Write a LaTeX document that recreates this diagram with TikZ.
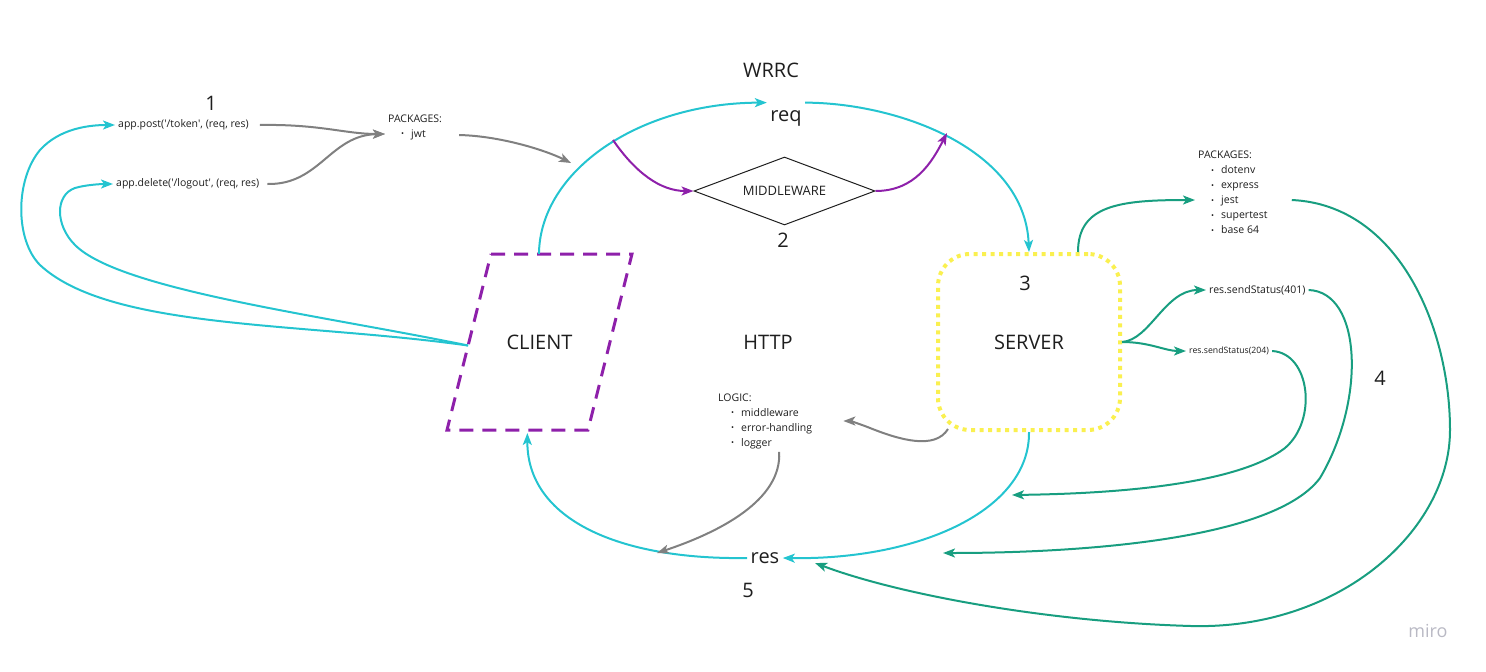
\documentclass[tikz,border=0pt]{standalone}
\usepackage{fontspec}
\setmainfont{Open Sans}
\usetikzlibrary{shapes.geometric, arrows.meta, positioning, calc}
\definecolor{ink}{RGB}{30,30,30}
\definecolor{wirecyan}{RGB}{36,196,208}
\definecolor{wiregreen}{RGB}{24,158,128}
\definecolor{wiregrey}{RGB}{128,128,128}
\definecolor{wirepurple}{RGB}{142,32,170}
\definecolor{boxyellow}{RGB}{250,240,80}
\definecolor{mirogrey}{RGB}{185,185,196}
\newcommand{\sq}{\textquotesingle}
\newcommand{\bul}[1]{\hspace*{13pt}\makebox[10pt][l]{\raisebox{0.5pt}{\fontsize{8}{8}\selectfont\textbullet}}#1}

\begin{document}
\begin{tikzpicture}[x=1pt, y=-1pt,
  biglabel/.style={font=\fontsize{20}{24}\selectfont, text=ink},
  smalltext/.style={font=\fontsize{10.5}{15}\selectfont, text=ink, align=left, inner sep=3pt},
  tip/.style={-{Stealth[length=12pt,width=9pt,inset=3pt]}},
  cyanwire/.style={draw=wirecyan, line width=2pt, tip},
  greenwire/.style={draw=wiregreen, line width=2pt, tip},
  greywire/.style={draw=wiregrey, line width=2pt, tip},
  purplewire/.style={draw=wirepurple, line width=2pt, tip},
]
  \useasboundingbox (0,0) rectangle (1486,672);

  % labels and step numbers
  \node[biglabel] (wrrc) at (771,70) {WRRC};
  \node[biglabel] (one) at (211,103) {1};
  \node[biglabel] (two) at (783,240) {2};
  \node[biglabel] (three) at (1025,283) {3};
  \node[biglabel] (four) at (1380,378) {4};
  \node[biglabel] (five) at (748,590) {5};
  \node[biglabel] (http) at (768,342) {HTTP};
  \node[biglabel] (req) at (786,118) {req};
  \node[biglabel] (res) at (765,558) {res};

  % client parallelogram
  \coordinate (cl-nw) at (491,254);
  \coordinate (cl-ne) at (632,254);
  \coordinate (cl-se) at (588,430);
  \coordinate (cl-sw) at (447,430);
  \draw[wirepurple, line width=3pt, dash pattern=on 14pt off 9pt] (cl-nw) -- (cl-ne) -- (cl-se) -- (cl-sw) -- cycle;
  \node[biglabel] (client) at (539.5,342) {CLIENT};
  \coordinate (cl-top) at ($(cl-nw)!0.34!(cl-ne)$);
  \coordinate (cl-bot) at ($(cl-sw)!0.57!(cl-se)$);
  \coordinate (cl-left) at ($(cl-nw)!0.52!(cl-sw)$);

  % server and middleware
  \node[draw=boxyellow, line width=4pt, dash pattern=on 4pt off 4.5pt, rounded corners=32pt,
        minimum width=182pt, minimum height=176pt, biglabel] (server) at (1029,342) {SERVER};
  \node[diamond, draw=ink, line width=1pt, aspect=2.66, inner sep=0pt, minimum width=181pt,
        minimum height=68pt, font=\fontsize{13}{15}\selectfont, text=ink] (mw) at (784.5,191) {MIDDLEWARE};

  % text blocks
  \node[smalltext, anchor=west] (post) at (115,125) {app.post(\sq/token\sq, (req, res)};
  \node[smalltext, anchor=west] (delete) at (113,184) {app.delete(\sq/logout\sq, (req, res)};
  \node[smalltext, anchor=west] (cltpkg) at (385,127) {PACKAGES:\\\bul{jwt}};
  \node[smalltext, anchor=west] (srvpkg) at (1195,192.5) {PACKAGES:\\\bul{dotenv}\\\bul{express}\\\bul{jest}\\\bul{supertest}\\\bul{base 64}};
  \node[smalltext, anchor=west] (logic) at (715,421) {LOGIC:\\\bul{middleware}\\\bul{error-handling}\\\bul{logger}};
  \node[smalltext, anchor=west] (s401) at (1206,290) {res.sendStatus(401)};
  \node[smalltext, anchor=west, font=\fontsize{8.7}{10}\selectfont] (s204) at (1186,351) {res.sendStatus(204)};
  \node[font=\fontsize{18}{20}\selectfont, text=mirogrey] (miro) at (1428,631) {miro};

  % free ends
  \coordinate (mwin) at (613,140);
  \coordinate (mwout) at (947,133);
  \coordinate (jwtend) at (571,163);
  \coordinate (logend) at (657,553);
  \coordinate (end204) at (1012,495);
  \coordinate (end401) at (943,553);
  \coordinate (pkgend) at (815,563);

  % request / response cycle
  \draw[cyanwire] (cl-top) .. controls (540,170) and (640,103) .. ($(req.north west)+(0,-4)$);
  \draw[cyanwire] ($(req.north east)+(0,-4)$) .. controls (900,103) and (1025,150) .. (server.north);
  \draw[cyanwire] (server.south) .. controls (1030,510) and (920,560) .. (res.east);
  \draw[cyanwire] (res.west) .. controls (620,560) and (527,520) .. ($(cl-bot)+(0,3)$);
  \draw[cyanwire] (cl-left) .. controls (300,322) and (110,330) .. (40,265)
    .. controls (15,240) and (15,180) .. (40,150) .. controls (60,128) and (90,125) .. (post.west);
  \draw[cyanwire] (cl-left) .. controls (320,315) and (120,290) .. (75,245)
    .. controls (55,225) and (55,195) .. (75,188) .. controls (85,185) and (100,184) .. (delete.west);

  % middleware
  \draw[purplewire] (mwin) .. controls (635,172) and (660,191) .. (mw.west);
  \draw[purplewire] (mw.east) .. controls (915,191) and (932,162) .. (mwout);

  % packages and logic
  \draw[greywire] ($(post.east)+(8,0)$) .. controls (320,124) and (345,134) .. ($(cltpkg.west)+(0,7)$);
  \draw[greywire] ($(delete.east)+(5,0)$) .. controls (320,185) and (330,135) .. ($(cltpkg.west)+(0,7)$);
  \draw[greywire] ($(cltpkg.east)+(14,8)$) .. controls (500,136) and (545,150) .. (jwtend);
  \draw[greywire] ($(server.south west)+(12,-3)$) .. controls (935,450) and (900,440) .. (870,428)
    .. controls (860,424) and (850,421) .. ($(logic.east)+(28,0)$);
  \draw[greywire] ($(logic.south)+(14,0)$) .. controls (782,500) and (720,532) .. (logend);

  % server responses
  \draw[greenwire] ($(server.north)+(49,0)$) .. controls (1078,205) and (1120,200) .. ($(srvpkg.west)+(0,7.5)$);
  \draw[greenwire] (server.east) .. controls (1150,340) and (1165,290) .. (s401.west);
  \draw[greenwire] (server.east) .. controls (1150,342) and (1165,351) .. (s204.west);
  \draw[greenwire] (s204.east) .. controls (1310,353) and (1318,420) .. (1285,448)
    .. controls (1230,490) and (1080,494) .. (end204);
  \draw[greenwire] (s401.east) .. controls (1362,292) and (1366,400) .. (1320,478)
    .. controls (1270,545) and (1050,553) .. (end401);
  \draw[greenwire] ($(srvpkg.east)+(21,7.5)$) .. controls (1400,205) and (1450,330) .. (1450,430)
    .. controls (1450,530) and (1340,630) .. (1191,626) .. controls (1050,622) and (900,595) .. (pkgend);
\end{tikzpicture}
\end{document}
